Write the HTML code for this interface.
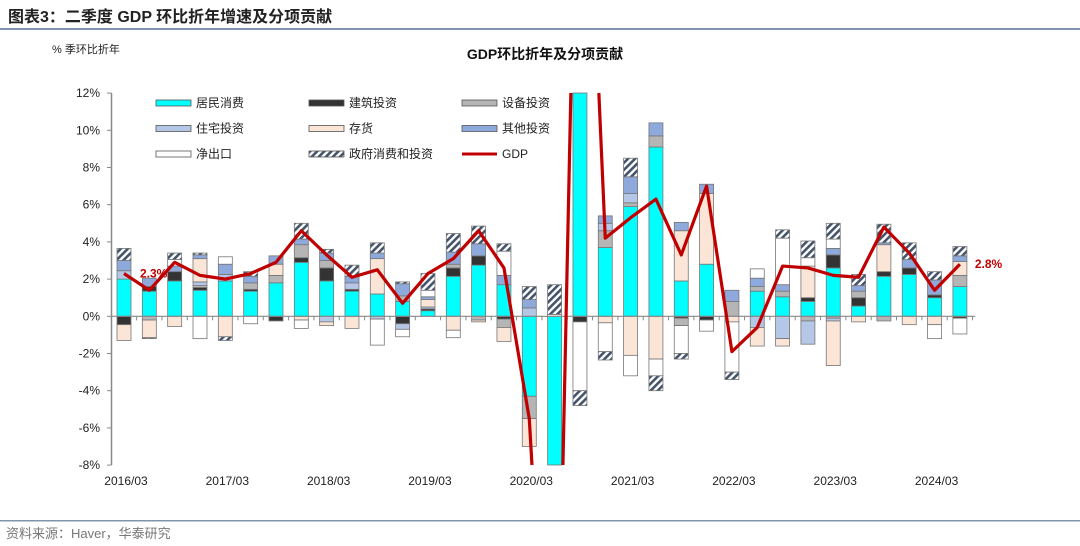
<!DOCTYPE html>
<html><head><meta charset="utf-8"><style>
html,body{margin:0;padding:0;background:#fff;width:1080px;height:546px;overflow:hidden;}
svg{display:block;font-family:"Liberation Sans","Noto Sans CJK SC",sans-serif;}
</style></head><body>
<svg id="chart" width="1080" height="546" viewBox="0 0 1080 546">
<defs>
<pattern id="hatch" patternUnits="userSpaceOnUse" width="5" height="5" patternTransform="rotate(45)">
<rect width="5" height="5" fill="#fff"/><rect width="2.6" height="5" fill="#44546A"/>
</pattern>
</defs>
<text x="8" y="22" font-size="16" font-weight="bold" fill="#222">图表3：二季度 GDP 环比折年增速及分项贡献</text>
<rect x="0" y="28" width="1080" height="2" fill="#8095AD"/>
<text x="52" y="53" font-size="11" fill="#222">% 季环比折年</text>
<text x="545" y="59" font-size="14" font-weight="bold" fill="#111" text-anchor="middle">GDP环比折年及分项贡献</text>
<g id="yaxis"></g>
<g id="bars"></g>
<g id="xaxis"></g>
<g id="line"></g>
<g id="legend"></g>
<rect x="0" y="520" width="1080" height="1.5" fill="#8095AD"/>
<text x="6" y="538" font-size="13" fill="#777">资料来源：Haver，华泰研究</text>
</svg>
<script>
const seriesNames = ["居民消费","建筑投资","设备投资","住宅投资","存货","其他投资","净出口","政府消费和投资"];
const quarters = ["2016Q1","2016Q2","2016Q3","2016Q4","2017Q1","2017Q2","2017Q3","2017Q4","2018Q1","2018Q2","2018Q3","2018Q4","2019Q1","2019Q2","2019Q3","2019Q4","2020Q1","2020Q2","2020Q3","2020Q4","2021Q1","2021Q2","2021Q3","2021Q4","2022Q1","2022Q2","2022Q3","2022Q4","2023Q1","2023Q2","2023Q3","2023Q4","2024Q1","2024Q2"];
const consumption = [2.0,1.35,1.9,1.4,1.9,1.35,1.8,2.9,1.9,1.35,1.2,0.8,0.3,2.15,2.75,1.7,-4.3,-25,25,3.7,5.9,9.1,1.9,2.8,0,1.35,1.05,0.8,2.6,0.55,2.15,2.25,1.0,1.6];
const structures = [-0.45,0.25,0.5,0.15,0,0.1,-0.25,0.25,0.7,0.1,0,-0.4,0.1,0.45,0.5,-0.15,0,0,-0.3,0,0,0,-0.1,-0.2,0,0,0,0.2,0.7,0.45,0.25,0.35,0.15,-0.1];
const equipment = [0,-0.2,0,0.1,0,0.35,0.4,0.7,0.4,0,0,0.3,0,0.2,-0.2,-0.45,-1.2,0,0,0.9,0.2,0.6,-0.4,0,0.8,0.25,0.3,-0.25,-0.1,0.35,-0.25,0,0,0.6];
const residential = [0.45,0,0,0.2,0.35,0,0,0,-0.3,0.35,-0.15,-0.3,0.1,0,0,0,0.45,0,0,0.4,0.5,0,0,0,0,-0.6,-1.2,-1.25,-0.15,0,0,0,0,0];
const inventory = [-0.85,-0.95,-0.55,1.25,-1.1,0,0.6,-0.2,-0.2,-0.65,1.9,0,0.4,-0.75,-0.1,-0.75,-1.5,0,0,-0.35,-2.1,-2.3,2.7,3.8,-0.3,-1.0,-0.4,1.7,-2.4,-0.3,1.45,-0.45,-0.45,0.75];
const otherInv = [0.55,0.45,0.3,0.2,0.55,0.35,0.45,0.3,0.4,0.35,0.3,0.65,0.15,0.65,0.65,0.5,0.45,0,0,0.4,0.9,0.7,0.45,0.5,0.6,0.45,0.35,0,0.35,0.3,0.1,0.45,0.8,0.3];
const netExports = [0,0,0.35,-1.2,0.4,-0.4,0,-0.45,0,0,-1.4,-0.4,0.35,-0.4,0,1.3,0,0.1,-3.7,-1.55,-1.1,-0.9,-1.5,-0.6,-2.7,0.5,2.5,0.45,0.5,0,0,0,-0.75,-0.85];
const government = [0.65,-0.05,0.35,0.1,-0.2,0.25,0,0.85,0.2,0.6,0.55,0.1,0.9,1.0,0.95,0.4,0.7,1.6,-0.8,-0.45,1.0,-0.8,-0.3,0,-0.4,0,0.45,0.9,0.85,0.6,1.0,0.9,0.45,0.5];
const gdp = [2.3,1.4,2.9,2.2,2.0,2.3,2.9,4.6,3.3,2.1,2.5,0.7,2.3,3.1,4.6,2.6,-5.5,-29,35,4.2,5.3,6.3,3.3,7.0,-1.9,-0.6,2.7,2.6,2.2,2.1,4.8,3.4,1.4,2.8];
const yTicks = [12,10,8,6,4,2,0,-2,-4,-6,-8];
const xLabels = ["2016/03","2017/03","2018/03","2019/03","2020/03","2021/03","2022/03","2023/03","2024/03"];

const fills = ["#00FFFF","#333333","#B5B5B5","#B4C7E7","#FBE5D6","#8EA9DB","#FFFFFF","url(#hatch)"];
const series = [consumption,structures,equipment,residential,inventory,otherInv,netExports,government];
const NS="http://www.w3.org/2000/svg";
function el(t,a,p){const e=document.createElementNS(NS,t);for(const k in a)e.setAttribute(k,a[k]);p.appendChild(e);return e;}
const y0=316.3, ppu=18.6, yTop=93, yBot=465;
function yScale(v){return y0 - v*ppu;}
function xScale(i){return 124 + i*25.33;}
function clampY(y){return Math.max(yTop, Math.min(yBot, y));}
const bw=14;

const ya=document.getElementById('yaxis');
const axl=el('line',{x1:111.5,y1:yTop,x2:111.5,y2:yBot,stroke:'#888','stroke-width':1.5},ya);


yTicks.forEach(v=>{
  const y=yScale(v);
  const tk=el('line',{x1:107,y1:y,x2:111.5,y2:y,stroke:'#888'},ya);
  
  
  const t=el('text',{x:100,y:y+4,'font-size':12,fill:'#222','text-anchor':'end'},ya);
  t.textContent=v+'%';
  
  
});

const bg=document.getElementById('bars');
quarters.forEach((q,i)=>{
  let pos=0,neg=0;
  const cx=xScale(i);
  series.forEach((s,k)=>{
    const v=s[i]; if(!v) return;
    let top,bot;
    if(v>0){bot=pos;pos+=v;top=pos;}else{top=neg;neg+=v;bot=neg;}
    const yt=clampY(yScale(top)), yb=clampY(yScale(bot));
    if(yb-yt<=0) return;
    const r=el('rect',{x:cx-bw/2,y:yt,width:bw,height:yb-yt,fill:fills[k],stroke:'#777','stroke-width':0.8},bg);
    
    
  });
});

const xa=document.getElementById('xaxis');
const zl=el('line',{x1:111.5,y1:y0,x2:975,y2:y0,stroke:'#888','stroke-width':1.2},xa);


for(let i=0;i<=quarters.length;i++){
  const x=xScale(i)-12.7;
  const tk=el('line',{x1:x,y1:y0,x2:x,y2:y0+4,stroke:'#888'},xa);
  
  
}
xLabels.forEach((l,j)=>{
  const t=el('text',{x:xScale(j*4)+2,y:485,'font-size':12,fill:'#222','text-anchor':'middle'},xa);
  t.textContent=l;
  
  
});

// GDP line clipped manually to plot y-range
const lg=document.getElementById('line');
const runs=[]; let cur=[];
function inside(y){return y>=yTop && y<=yBot;}
for(let i=0;i<gdp.length-1;i++){
  const xa1=xScale(i), ya1=yScale(gdp[i]), xb=xScale(i+1), yb=yScale(gdp[i+1]);
  // clip segment
  let t0=0,t1=1; const dy=yb-ya1;
  if(dy!==0){
    const tT=(yTop-ya1)/dy, tB=(yBot-ya1)/dy;
    const lo=Math.min(tT,tB), hi=Math.max(tT,tB);
    t0=Math.max(0,lo); t1=Math.min(1,hi);
  } else if(!inside(ya1)){ t0=1; t1=0; }
  if(t0>t1){ if(cur.length){runs.push(cur);cur=[];} continue; }
  const p0=[xa1+(xb-xa1)*t0, ya1+dy*t0], p1=[xa1+(xb-xa1)*t1, ya1+dy*t1];
  if(t0>0 && cur.length){runs.push(cur);cur=[];}
  if(!cur.length) cur.push(p0);
  cur.push(p1);
  if(t1<1){runs.push(cur);cur=[];}
}
if(cur.length) runs.push(cur);
runs.forEach(r=>{
  const pl=el('polyline',{points:r.map(p=>p[0].toFixed(2)+','+p[1].toFixed(2)).join(' '),fill:'none',stroke:'#C00000','stroke-width':3.2,'stroke-linejoin':'round'},lg);
  
  
});
const svg=document.getElementById('chart');
const l1=el('text',{x:xScale(0)+16,y:yScale(gdp[0])+4,'font-size':12,'font-weight':'bold',fill:'#C00000'},svg);
l1.textContent=gdp[0].toFixed(1)+'%';


const n=gdp.length-1;
const l2=el('text',{x:xScale(n)+15,y:yScale(gdp[n])+4,'font-size':12,'font-weight':'bold',fill:'#C00000'},svg);
l2.textContent=gdp[n].toFixed(1)+'%';



const lgd=document.getElementById('legend');
const legItems=[[0,0],[1,1],[2,2],[3,0],[4,1],[5,2],[6,0],[7,1],[8,2]];
const names=seriesNames.concat(["GDP"]);
legItems.forEach((c,i)=>{
  const row=Math.floor(i/3), x=156+c[1]*153, y=100+row*25.5;
  let sw;
  if(i<8){sw=el('rect',{x:x,y:y,width:35,height:6,fill:fills[i],stroke:'#555','stroke-width':0.8},lgd);}
  else{sw=el('line',{x1:x,y1:y+3,x2:x+35,y2:y+3,stroke:'#C00000','stroke-width':3},lgd);}
  
  
  const t=el('text',{x:x+40,y:y+7,'font-size':12,fill:'#222'},lgd);
  t.textContent=names[i];
  
  
});
</script>
</body></html>
